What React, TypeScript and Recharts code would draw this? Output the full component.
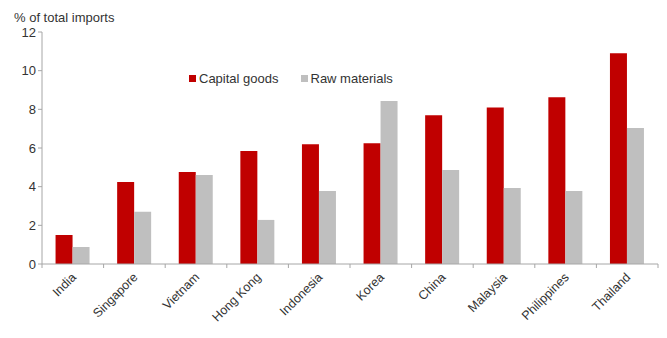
import React from "react";
import { BarChart, Bar, XAxis, YAxis } from "recharts";

const countries = [
  "India",
  "Singapore",
  "Vietnam",
  "Hong Kong",
  "Indonesia",
  "Korea",
  "China",
  "Malaysia",
  "Philippines",
  "Thailand",
];
const capitalGoods = [1.5, 4.24, 4.76, 5.85, 6.2, 6.25, 7.7, 8.1, 8.63, 10.9];
const rawMaterials = [0.88, 2.7, 4.6, 2.28, 3.78, 8.43, 4.86, 3.93, 3.78, 7.03];
const yTicks = [0, 2, 4, 6, 8, 10, 12];
const seriesNames = ["Capital goods", "Raw materials"];

const data = countries.map((name, i) => ({
  name,
  capital: capitalGoods[i],
  raw: rawMaterials[i],
}));

const W = 667;
const H = 338;
const LEFT = 42;
const RIGHT = 9;
const band = (W - LEFT - RIGHT) / countries.length;
const axisColor = "#a6a6a6";
const colors = ["#c00000", "#bfbfbf"];
const font = "'Liberation Sans', Arial, sans-serif";

function CountryTick(props: any) {
  const { x, y, payload, index } = props;
  const last = index === countries.length - 1;
  return (
    <g>
      <line x1={x - band / 2} y1={y - 8} x2={x - band / 2} y2={y - 4} stroke={axisColor} />
      {last && <line x1={x + band / 2} y1={y - 8} x2={x + band / 2} y2={y - 4} stroke={axisColor} />}
      <text
        x={x + 4}
        y={y + 6}
        textAnchor="end"
        fontSize={12.5}
        fill="#333"
        fontFamily={font}
        transform={`rotate(-45, ${x + 4}, ${y + 6})`}
      >
        {payload.value}
      </text>
    </g>
  );
}

function LegendBox() {
  return (
    <div
      style={{
        position: "absolute",
        left: 189,
        top: 71,
        display: "flex",
        fontFamily: font,
        fontSize: 13,
        color: "#333",
      }}
    >
      {seriesNames.map((label, i) => (
        <div key={label} style={{ display: "flex", alignItems: "center", marginRight: 22 }}>
          <span style={{ width: 7, height: 7, background: colors[i], display: "inline-block", marginRight: 3 }} />
          {label}
        </div>
      ))}
    </div>
  );
}

export default function App() {
  return (
    <div style={{ position: "absolute", left: 0, top: 0, width: W, height: H, background: "#fff" }}>
      <div
        style={{
          position: "absolute",
          left: 14,
          top: 10,
          fontFamily: font,
          fontSize: 13,
          color: "#333",
        }}
      >
        % of total imports
      </div>
      <BarChart
        width={W}
        height={H}
        data={data}
        margin={{ top: 32, right: RIGHT, left: 0, bottom: 0 }}
        barCategoryGap="22%"
        barGap={0}
      >
        <XAxis
          dataKey="name"
          height={74}
          interval={0}
          stroke={axisColor}
          tickLine={false}
          tick={<CountryTick />}
        />
        <YAxis
          width={LEFT}
          domain={[0, 12]}
          ticks={yTicks}
          stroke={axisColor}
          tickSize={4}
          tick={{ fontSize: 13, fill: "#333", fontFamily: font }}
        />
        <Bar dataKey="capital" name={seriesNames[0]} fill={colors[0]} isAnimationActive={false} />
        <Bar dataKey="raw" name={seriesNames[1]} fill={colors[1]} isAnimationActive={false} />
      </BarChart>
      <LegendBox />
    </div>
  );
}
